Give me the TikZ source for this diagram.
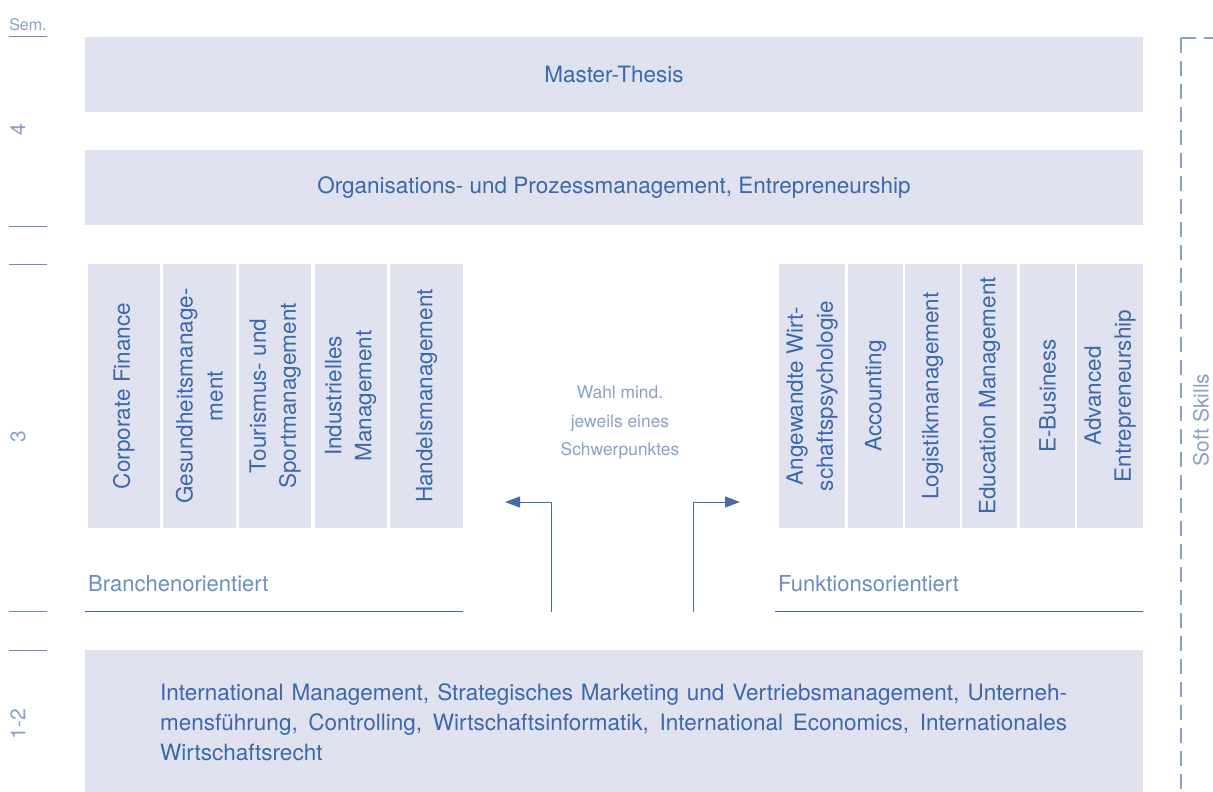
\documentclass[tikz,border=0pt]{standalone}
\usepackage{fontspec}
\setmainfont{TeX Gyre Heros}
\usetikzlibrary{arrows.meta}
\definecolor{boxfill}{HTML}{E0E2EF}
\definecolor{txtblue}{HTML}{3B68AC}
\definecolor{lightblue}{HTML}{8AA0C8}
\definecolor{lineblue}{HTML}{4A6CA6}
\tikzset{
  box/.style={fill=boxfill, draw=none, inner sep=0pt, text=txtblue, font=\fontsize{22.5}{30}\selectfont},
  colbox/.style={fill=boxfill, draw=none, inner sep=0pt, minimum height=264pt, text=txtblue,
     font=\fontsize{22.5}{30}\selectfont, rotate=90, align=center},
  semlabel/.style={text=lightblue, font=\fontsize{21}{24}\selectfont, rotate=90, inner sep=0pt},
  semline/.style={draw=lineblue!80, line width=1pt},
  baseline/.style={draw=lineblue, line width=1pt},
  arr/.style={draw=lineblue, line width=1pt, -{Triangle[length=15pt,width=11pt]}},
  plain/.style={text=txtblue, font=\fontsize{22.5}{30}\selectfont, inner sep=0pt},
  note/.style={text=lightblue, font=\fontsize{17.4}{28.5}\selectfont, align=center, inner sep=0pt},
  softdash/.style={draw=lightblue, line width=1.3pt, dash pattern=on 15pt off 8pt}
}
\begin{document}
\begin{tikzpicture}[x=1pt,y=-1pt]
\useasboundingbox (0,0) rectangle (1213,792);
% semester column
\node[text=lightblue, font=\fontsize{16}{18}\selectfont, inner sep=0pt, anchor=base] (sem) at (28,31) {Sem.};
\coordinate (s0a) at (9,37); \coordinate (s0b) at (47,37);
\draw[semline] (s0a) -- (s0b);
\node[semlabel] (s4) at (18,130) {4};
\coordinate (s1a) at (9,226); \coordinate (s1b) at (47,226);
\coordinate (s2a) at (9,264); \coordinate (s2b) at (47,264);
\draw[semline] (s1a) -- (s1b);
\draw[semline] (s2a) -- (s2b);
\node[semlabel] (s3) at (18,437) {3};
\coordinate (s3a) at (9,611); \coordinate (s3b) at (47,611);
\coordinate (s4a) at (9,650); \coordinate (s4b) at (47,650);
\draw[semline] (s3a) -- (s3b);
\draw[semline] (s4a) -- (s4b);
\node[semlabel] (s12) at (18,724) {1-2};
% top boxes
\node[box, minimum width=1058pt, minimum height=75pt] (thesis) at (614,74.5) {Master-Thesis};
\node[box, minimum width=1058pt, minimum height=75pt] (org) at (614,187.5) {Organisations- und Prozessmanagement, Entrepreneurship};
% left columns
\node[colbox, minimum width=264pt, minimum height=72pt] (c1) at (124,396) {Corporate Finance};
\node[colbox, minimum width=264pt, minimum height=73pt] (c2) at (199.5,396) {Gesundheitsmanage-\\ment};
\node[colbox, minimum width=264pt, minimum height=72pt] (c3) at (275,396) {Tourismus- und\\Sportmanagement};
\node[colbox, minimum width=264pt, minimum height=72pt] (c4) at (350.5,396) {Industrielles\\Management};
\node[colbox, minimum width=264pt, minimum height=73pt] (c5) at (426.5,396) {Handelsmanagement};
% right columns
\node[colbox, minimum width=264pt, minimum height=66pt] (d1) at (812,396) {Angewandte Wirt-\\schaftspsychologie};
\node[colbox, minimum width=264pt, minimum height=55pt] (d2) at (875.5,396) {Accounting};
\node[colbox, minimum width=264pt, minimum height=55pt] (d3) at (932.5,396) {Logistikmanagement};
\node[colbox, minimum width=264pt, minimum height=55pt] (d4) at (989.5,396) {Education Management};
\node[colbox, minimum width=264pt, minimum height=55pt] (d5) at (1047.5,396) {E-Business};
\node[colbox, minimum width=264pt, minimum height=66pt] (d6) at (1110,396) {Advanced\\Entrepreneurship};
% middle note
\node[note] (wahl) at (620,423) {Wahl mind.\\jeweils eines\\Schwerpunktes};
% arrows
\coordinate (la0) at (551,612); \coordinate (la1) at (505,502);
\coordinate (ra0) at (693,612); \coordinate (ra1) at (740,502);
\draw[arr] (la0) |- (la1);
\draw[arr] (ra0) |- (ra1);
% orientation labels
\node[plain, anchor=base west, text=txtblue!75, font=\fontsize{22}{30}\selectfont] (bo) at (88,591) {Branchenorientiert};
\node[plain, anchor=base west, text=txtblue!75, font=\fontsize{22}{30}\selectfont] (fo) at (778,591) {Funktionsorientiert};
\coordinate (bl0) at (85,611); \coordinate (bl1) at (463,611);
\coordinate (fl0) at (775,611); \coordinate (fl1) at (1143,611);
\draw[baseline] (bl0) -- (bl1);
\draw[baseline] (fl0) -- (fl1);
% bottom box
\node[box, minimum width=1058pt, minimum height=142pt] (base) at (614,721) {};
\node[plain, anchor=north west, text width=907pt, align=justify] (basetext) at (160,683)
 {International Management, Strategisches Marketing und Vertriebsmanagement, Unterneh-\linebreak
 mensführung, Controlling, Wirtschaftsinformatik, International Economics, Internationales\linebreak
 Wirtschaftsrecht};
% soft skills
\coordinate (ss0) at (1181,38); \coordinate (ss1) at (1213,38); \coordinate (ss2) at (1181,792);
\draw[softdash] (ss0) -- (ss1);
\draw[softdash] (ss0) -- (ss2);
\node[semlabel] (soft) at (1201,420) {Soft Skills};
\end{tikzpicture}
\end{document}
